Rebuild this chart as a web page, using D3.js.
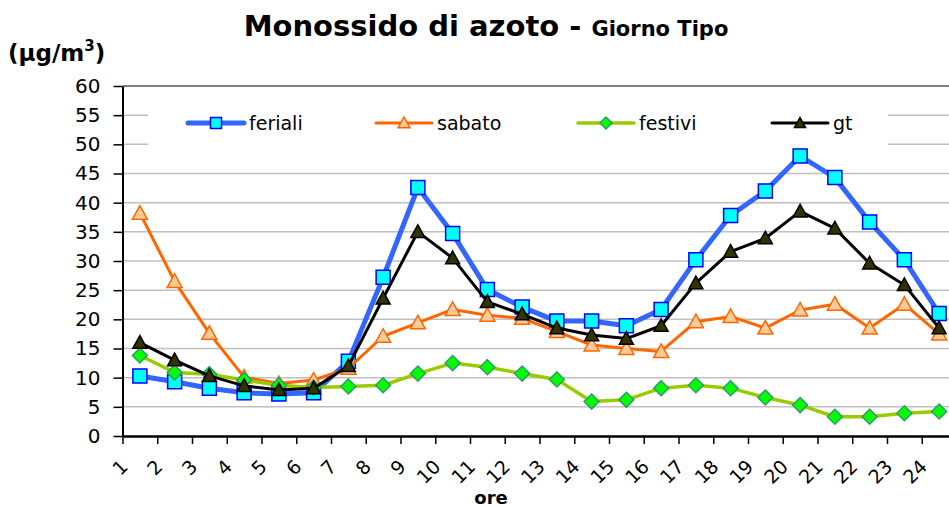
<!DOCTYPE html>
<html>
<head>
<meta charset="utf-8">
<script src="https://cdn.jsdelivr.net/npm/d3@7"></script>
<style>
  body { margin: 0; background: #fff; }
  svg { display: block; }
</style>
</head>
<body>
<div id="div_no"></div>
<script>
// ore del giorno (categorie)
var ore = ["1", "2", "3", "4", "5", "6", "7", "8", "9", "10", "11", "12",
  "13", "14", "15", "16", "17", "18", "19", "20", "21", "22", "23", "24"];
var y_ticks = [0, 5, 10, 15, 20, 25, 30, 35, 40, 45, 50, 55, 60];

// NO medio orario, ug/m3
var feriali = [10.3, 9.3, 8.2, 7.4, 7.2, 7.4, 12.8, 27.2, 42.6, 34.7, 25.1, 22.1,
  19.7, 19.7, 18.9, 21.7, 30.2, 37.8, 42.0, 48.0, 44.3, 36.7, 30.2, 21.0];
var sabato = [38.2, 26.5, 17.6, 10.1, 9.0, 9.6, 11.6, 17.1, 19.4, 21.7, 20.7, 20.2,
  17.9, 15.6, 15.0, 14.5, 19.6, 20.5, 18.5, 21.6, 22.6, 18.5, 22.6, 17.5];
var festivi = [13.8, 10.9, 10.6, 9.6, 8.7, 8.3, 8.5, 8.7, 10.7, 12.5, 11.8, 10.7,
  9.7, 5.9, 6.2, 8.2, 8.7, 8.2, 6.6, 5.3, 3.3, 3.3, 3.9, 4.2];
var gt = [16.0, 13.0, 10.3, 8.6, 7.9, 8.2, 12.0, 23.6, 35.0, 30.5, 23.0, 20.9,
  18.5, 17.3, 16.7, 18.9, 26.2, 31.6, 33.9, 38.5, 35.6, 29.6, 25.9, 18.5];

var series_names = ["feriali", "sabato", "festivi", "gt"];

function build_no_chart() {
  var width = 949, height = 508;
  var left = 122.5, right = 956.5, top = 86, bottom = 436;
  var font = "'DejaVu Sans', Verdana, sans-serif";

  var svg = d3.select("#div_no").append("svg")
    .attr("width", width)
    .attr("height", height)
    .style("font-family", font);

  var x = d3.scaleLinear().domain([0, ore.length]).range([left, right]);
  var y = d3.scaleLinear().domain([0, 60]).range([bottom, top]);

  var styles = {
    'feriali': { line: "#3366FF", lw: 5, marker: "square", fill: "#00FFFF", stroke: "#0000FF", size: 14 },
    'sabato': { line: "#FF6600", lw: 3, marker: "triangle", fill: "#FFCC99", stroke: "#FF6600", size: 15 },
    'festivi': { line: "#99CC00", lw: 3.5, marker: "diamond", fill: "#00FF00", stroke: "#339966", size: 15 },
    'gt': { line: "#000000", lw: 3, marker: "triangle", fill: "#333300", stroke: "#000000", size: 14 }
  };
  var values = { 'feriali': feriali, 'sabato': sabato, 'festivi': festivi, 'gt': gt };

  // griglia
  svg.append("g").selectAll("line")
    .data(y_ticks.slice(1, -1))
    .enter().append("line")
    .attr("x1", left).attr("x2", width)
    .attr("y1", d => y(d)).attr("y2", d => y(d))
    .style("stroke", "#c0c0c0")
    .style("stroke-width", 1.5);
  svg.append("line")
    .attr("x1", left).attr("x2", width)
    .attr("y1", y(60)).attr("y2", y(60))
    .style("stroke", "#808080")
    .style("stroke-width", 2);

  // sfondo legenda
  svg.append("rect")
    .attr("x", 148).attr("y", 101)
    .attr("width", 740).attr("height", 50)
    .style("fill", "#fff");

  // assi
  var yAxis = svg.append("g")
    .attr("transform", "translate(" + left + ",0)")
    .call(d3.axisLeft(y).tickValues(y_ticks).tickSize(9).tickSizeOuter(0).tickPadding(13));
  yAxis.select(".domain").style("stroke", "#000").style("stroke-width", 2);
  yAxis.selectAll(".tick line").style("stroke", "#000").style("stroke-width", 1.5);
  yAxis.selectAll("text").style("font-size", "20px").style("font-family", font).style("fill", "#000");

  var xAxis = svg.append("g")
    .attr("transform", "translate(0," + bottom + ")")
    .call(d3.axisBottom(x).tickValues(d3.range(0, ore.length + 1)).tickSize(8).tickSizeOuter(0)
      .tickFormat(i => i < ore.length ? ore[i] : ""));
  xAxis.select(".domain").style("stroke", "#000").style("stroke-width", 2.5);
  xAxis.selectAll(".tick line").style("stroke", "#000").style("stroke-width", 1.5);
  xAxis.selectAll("text")
    .style("font-size", "19px").style("font-family", font).style("fill", "#000")
    .style("text-anchor", "end")
    .attr("y", 0).attr("dy", 0)
    .attr("transform", "translate(6,32) rotate(-45)");

  // simboli
  function marker_path(type, s) {
    var h = s / 2;
    if (type == "square") return "M" + (-h) + "," + (-h) + "h" + s + "v" + s + "h" + (-s) + "Z";
    if (type == "diamond") return "M0," + (-h) + "L" + h + ",0L0," + h + "L" + (-h) + ",0Z";
    return "M0," + (-h) + "L" + h + "," + (h * 0.8) + "L" + (-h) + "," + (h * 0.8) + "Z";
  }

  // serie
  for (var k = 0; k < series_names.length; k++) {
    var name = series_names[k];
    var st = styles[name];
    var line = d3.line()
      .x((d, i) => x(i + 0.5))
      .y(d => y(d));
    svg.append("path")
      .datum(values[name])
      .attr("d", line)
      .style("fill", "none")
      .style("stroke", st.line)
      .style("stroke-width", st.lw)
      .style("stroke-linejoin", "round");
    svg.append("g").selectAll("path")
      .data(values[name])
      .enter().append("path")
      .attr("transform", (d, i) => "translate(" + x(i + 0.5) + "," + y(d) + ")")
      .attr("d", marker_path(st.marker, st.size))
      .style("fill", st.fill)
      .style("stroke", st.stroke)
      .style("stroke-width", 1.5);
  }

  // legenda
  var legend_x = [188, 376, 578, 772];
  for (var j = 0; j < series_names.length; j++) {
    var nm = series_names[j];
    var s = styles[nm];
    svg.append("line")
      .attr("x1", legend_x[j]).attr("x2", legend_x[j] + 56)
      .attr("y1", 123).attr("y2", 123)
      .style("stroke", s.line)
      .style("stroke-width", s.lw)
      .style("stroke-linecap", "round");
    svg.append("path")
      .attr("transform", "translate(" + (legend_x[j] + 28) + ",123)")
      .attr("d", marker_path(s.marker, s.size - 3))
      .style("fill", s.fill)
      .style("stroke", s.stroke)
      .style("stroke-width", 1.5);
    svg.append("text")
      .attr("x", legend_x[j] + 61)
      .attr("y", 130)
      .style("font-size", "19px")
      .text(nm);
  }

  // titoli
  var title = svg.append("text")
    .attr("x", 486)
    .attr("y", 36)
    .style("text-anchor", "middle")
    .style("font-weight", "bold");
  title.append("tspan").style("font-size", "29px").text("Monossido di azoto - ");
  title.append("tspan").style("font-size", "21px").text("Giorno Tipo");

  var unit = svg.append("text")
    .attr("x", 8)
    .attr("y", 61)
    .style("font-weight", "bold")
    .style("font-size", "23px");
  unit.append("tspan").text("(μg/m");
  unit.append("tspan").attr("dy", -10).style("font-size", "15px").text("3");
  unit.append("tspan").attr("dy", 10).text(")");

  svg.append("text")
    .attr("x", 491)
    .attr("y", 504)
    .style("text-anchor", "middle")
    .style("font-weight", "bold")
    .style("font-size", "18px")
    .text("ore");
}

build_no_chart();
</script>
</body>
</html>
